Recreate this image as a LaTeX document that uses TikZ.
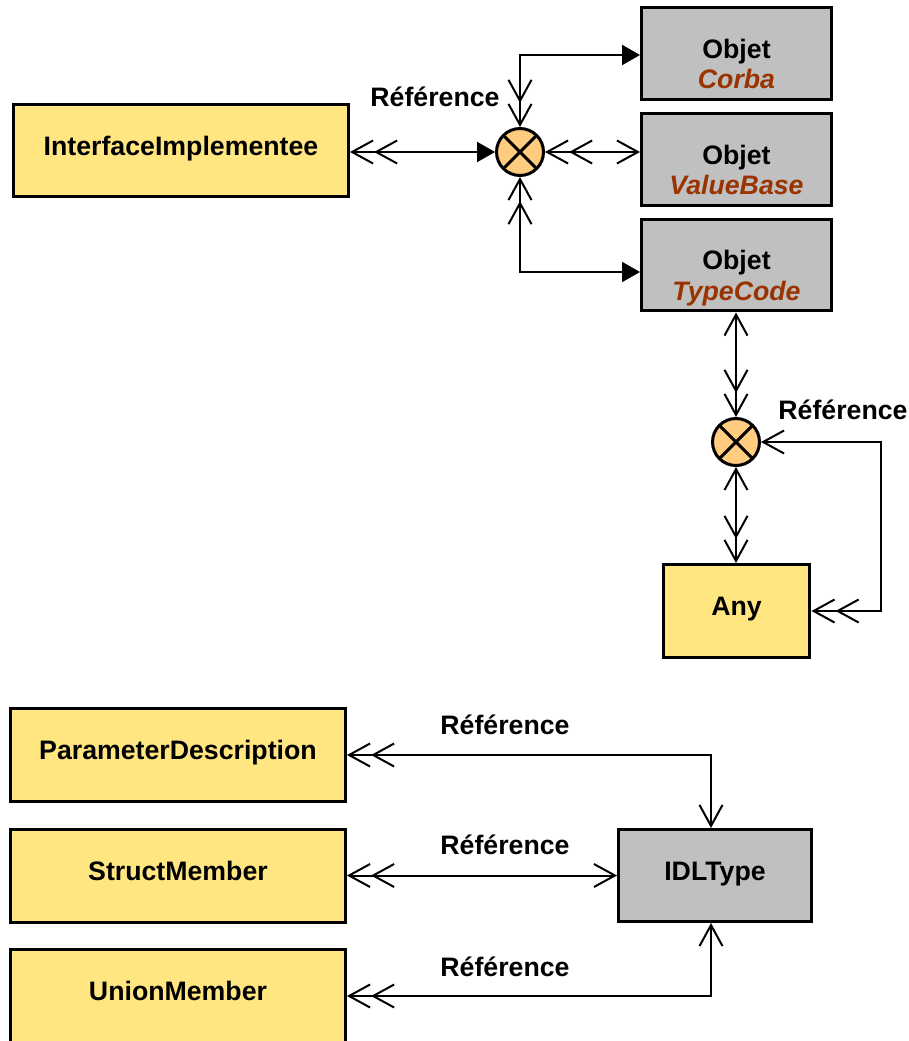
\documentclass[tikz,border=0pt]{standalone}
\usepackage{fontspec}
\setmainfont{Liberation Sans}
\usetikzlibrary{arrows.meta}

\definecolor{jaune}{RGB}{255,230,128}
\definecolor{gris}{RGB}{192,192,192}
\definecolor{croix}{RGB}{255,204,128}
\definecolor{brique}{RGB}{153,51,0}

\tikzset{
	barb/.tip={Straight Barb[length=0.42cm,width=0.46cm]},
	dblbarb/.tip={Straight Barb[length=0.42cm,width=0.46cm] Straight Barb[length=0.42cm,width=0.46cm]},
	tri/.tip={Triangle[length=0.36cm,width=0.4cm]},
}

\begin{document}
\begin{tikzpicture}[x=0.02cm,y=-0.02cm,line width=0.04cm,
	font=\fontsize{15.2}{17.6}\selectfont\bfseries,
	classe/.style={draw,line width=0.06cm,fill=jaune,minimum width=6.7cm,minimum height=1.84cm,text height=0.4cm,text depth=0.22cm},
	objet/.style={draw,line width=0.06cm,fill=gris,minimum width=3.8cm,minimum height=1.84cm},
	objtxt/.style={align=center},
	noeud/.style={circle,draw,line width=0.06cm,fill=croix,minimum size=0.94cm,inner sep=0pt,
		path picture={\draw[line width=0.06cm] (path picture bounding box.center) +(45:1cm) -- +(225:1cm)
			(path picture bounding box.center) +(135:1cm) -- +(315:1cm);}},
	lbl/.style={inner sep=0pt}]
	\useasboundingbox (0,0) rectangle (909,1041);

	\node[classe] (impl) at (181,150.5) {InterfaceImplementee};
	\node[noeud] (c1) at (520,152) {};
	\node[objet] (corba) at (736.5,53.5) {};
	\node[objet] (vbase) at (736.5,159.5) {};
	\node[objet] (tcode) at (736.5,265) {};
	\node[objtxt] (corbatxt) at ([yshift=-0.3cm]corba.center) {Objet\\\textcolor{brique}{\itshape Corba}\strut};
	\node[objtxt] (vbasetxt) at ([yshift=-0.3cm]vbase.center) {Objet\\\textcolor{brique}{\itshape ValueBase}\strut};
	\node[objtxt] (tcodetxt) at ([yshift=-0.3cm]tcode.center) {Objet\\\textcolor{brique}{\itshape TypeCode}\strut};
	\node[lbl] (ref1) at (435,97) {Référence};

	\draw[{dblbarb}-{tri}] (impl.east |- c1) -- (c1.west);
	\draw[{dblbarb}-{tri}] (c1.north) |- ([yshift=-0.03cm]corba.west);
	\draw[{dblbarb}-{barb}] (c1.east) -- (c1.east -| vbase.west);
	\draw[{dblbarb}-{tri}] (c1.south) |- ([yshift=-0.14cm]tcode.west);

	\node[noeud] (c2) at (736,442) {};
	\node[classe,minimum width=2.94cm,minimum height=1.86cm] (any) at (736.5,611) {Any};
	\node[lbl] (ref2) at (843,410) {Référence};

	\draw[{barb}-{dblbarb}] (tcode.south -| c2) -- (c2.north);
	\draw[{barb}-{dblbarb}] (c2.south) -- (any.north -| c2);
	\draw[{dblbarb}-{barb}] (any.east) -- ++(69.5,0) |- (c2.east);

	\node[classe,minimum width=6.7cm,minimum height=1.86cm] (pdesc) at (178,755) {ParameterDescription};
	\node[classe,minimum width=6.7cm,minimum height=1.86cm] (smember) at (178,875.5) {StructMember};
	\node[classe,minimum width=6.7cm,minimum height=1.88cm] (umember) at (178,996) {UnionMember};
	\node[objet,minimum width=3.86cm,text height=0.4cm,text depth=0.22cm] (idl) at (715,875.5) {IDLType};
	\node[lbl] (ref3) at (505,725) {Référence};
	\node[lbl] (ref4) at (505,845) {Référence};
	\node[lbl] (ref5) at (505,967) {Référence};

	\draw[{dblbarb}-{barb}] (pdesc.east) -| ([xshift=-0.08cm]idl.north);
	\draw[{dblbarb}-{barb}] (smember.east) -- (idl.west);
	\draw[{dblbarb}-{barb}] (umember.east) -| ([xshift=-0.08cm]idl.south);
\end{tikzpicture}
\end{document}
